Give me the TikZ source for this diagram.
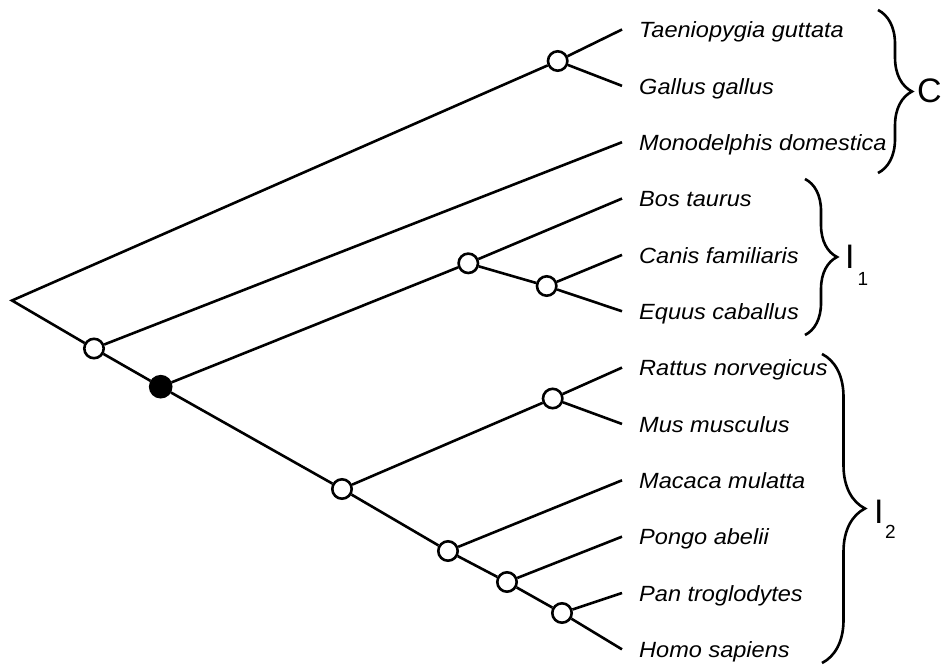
\documentclass[tikz,border=0pt]{standalone}
\usepackage{fontspec}
\setmainfont{Liberation Sans}
\usepackage{graphicx}
\usetikzlibrary{decorations.pathreplacing}
\newcommand\taxname[1]{\scalebox{1.07}[1]{#1}}
\begin{document}
\begin{tikzpicture}[x=1pt,y=1pt,
  edge/.style={line width=2.6pt},
  opennode/.style={circle,draw,line width=2.6pt,fill=white,minimum size=19.4pt,inner sep=0pt},
  fullnode/.style={circle,draw,line width=2.6pt,fill=black,minimum size=21pt,inner sep=0pt},
  taxon/.style={anchor=base west,inner sep=0pt,font=\fontsize{22}{24}\selectfont\itshape},
  grouplabel/.style={anchor=base west,inner sep=0pt,font=\fontsize{34}{36}\selectfont},
  groupbrace/.style={decorate,decoration={brace,amplitude=#1},line width=2.6pt}
]
\useasboundingbox (0,0) rectangle (941,-669);

% internal nodes
\coordinate (R) at (12,-300.5);
\node[opennode] (A) at (94,-348.5) {};
\node[fullnode] (B) at (160.7,-386.7) {};
\node[opennode] (C) at (342,-489) {};
\node[opennode] (D) at (552.7,-398.5) {};
\node[opennode] (E) at (448,-551) {};
\node[opennode] (F) at (507,-582) {};
\node[opennode] (G) at (562,-613) {};
\node[opennode] (H) at (468.3,-263.3) {};
\node[opennode] (I) at (546.7,-286) {};
\node[opennode] (J) at (557.7,-61) {};

% tips
\foreach \i in {0,...,11}
  \coordinate (t\i) at (622,{-(29.5+56.35*\i)});

% edges
\draw[edge] (J) -- (R) -- (A);
\draw[edge] (J) -- (t0);
\draw[edge] (J) -- (t1);
\draw[edge] (A) -- (t2);
\draw[edge] (A) -- (B);
\draw[edge] (B) -- (H);
\draw[edge] (H) -- (t3);
\draw[edge] (H) -- (I);
\draw[edge] (I) -- (t4);
\draw[edge] (I) -- (t5);
\draw[edge] (B) -- (C);
\draw[edge] (C) -- (D);
\draw[edge] (D) -- (t6);
\draw[edge] (D) -- (t7);
\draw[edge] (C) -- (E);
\draw[edge] (E) -- (t8);
\draw[edge] (E) -- (F);
\draw[edge] (F) -- (t9);
\draw[edge] (F) -- (G);
\draw[edge] (G) -- (t10);
\draw[edge] (G) -- (t11);

% taxon names
\node[taxon] (n0) at ([xshift=17pt,yshift=-8.3pt]t0) {\taxname{Taeniopygia guttata}};
\node[taxon] (n1) at ([xshift=17pt,yshift=-8.3pt]t1) {\taxname{Gallus gallus}};
\node[taxon] (n2) at ([xshift=17pt,yshift=-8.3pt]t2) {\taxname{Monodelphis domestica}};
\node[taxon] (n3) at ([xshift=17pt,yshift=-8.3pt]t3) {\taxname{Bos taurus}};
\node[taxon] (n4) at ([xshift=17pt,yshift=-8.3pt]t4) {\taxname{Canis familiaris}};
\node[taxon] (n5) at ([xshift=17pt,yshift=-8.3pt]t5) {\taxname{Equus caballus}};
\node[taxon] (n6) at ([xshift=17pt,yshift=-8.3pt]t6) {\taxname{Rattus norvegicus}};
\node[taxon] (n7) at ([xshift=17pt,yshift=-8.3pt]t7) {\taxname{Mus musculus}};
\node[taxon] (n8) at ([xshift=17pt,yshift=-8.3pt]t8) {\taxname{Macaca mulatta}};
\node[taxon] (n9) at ([xshift=17pt,yshift=-8.3pt]t9) {\taxname{Pongo abelii}};
\node[taxon] (n10) at ([xshift=17pt,yshift=-8.3pt]t10) {\taxname{Pan troglodytes}};
\node[taxon] (n11) at ([xshift=17pt,yshift=-8.3pt]t11) {\taxname{Homo sapiens}};

% braces
\coordinate (bc1) at (878,-10);
\coordinate (bc2) at (878,-173);
\coordinate (bi1) at (805,-179);
\coordinate (bi2) at (805,-335);
\coordinate (bj1) at (822,-354);
\coordinate (bj2) at (822,-663);
\draw[groupbrace=34pt] (bc1) -- (bc2);
\draw[groupbrace=32pt] (bi1) -- (bi2);
\draw[groupbrace=43pt] (bj1) -- (bj2);

% group labels
\node[grouplabel] (lc) at (917,-102) {C};
\node[grouplabel] (l1) at (845,-268) {I\kern3pt\raisebox{-17pt}{\fontsize{19}{19}\selectfont 1}};
\node[grouplabel] (l2) at (874,-523) {I\kern1.5pt\raisebox{-15pt}{\fontsize{19}{19}\selectfont 2}};
\end{tikzpicture}
\end{document}
